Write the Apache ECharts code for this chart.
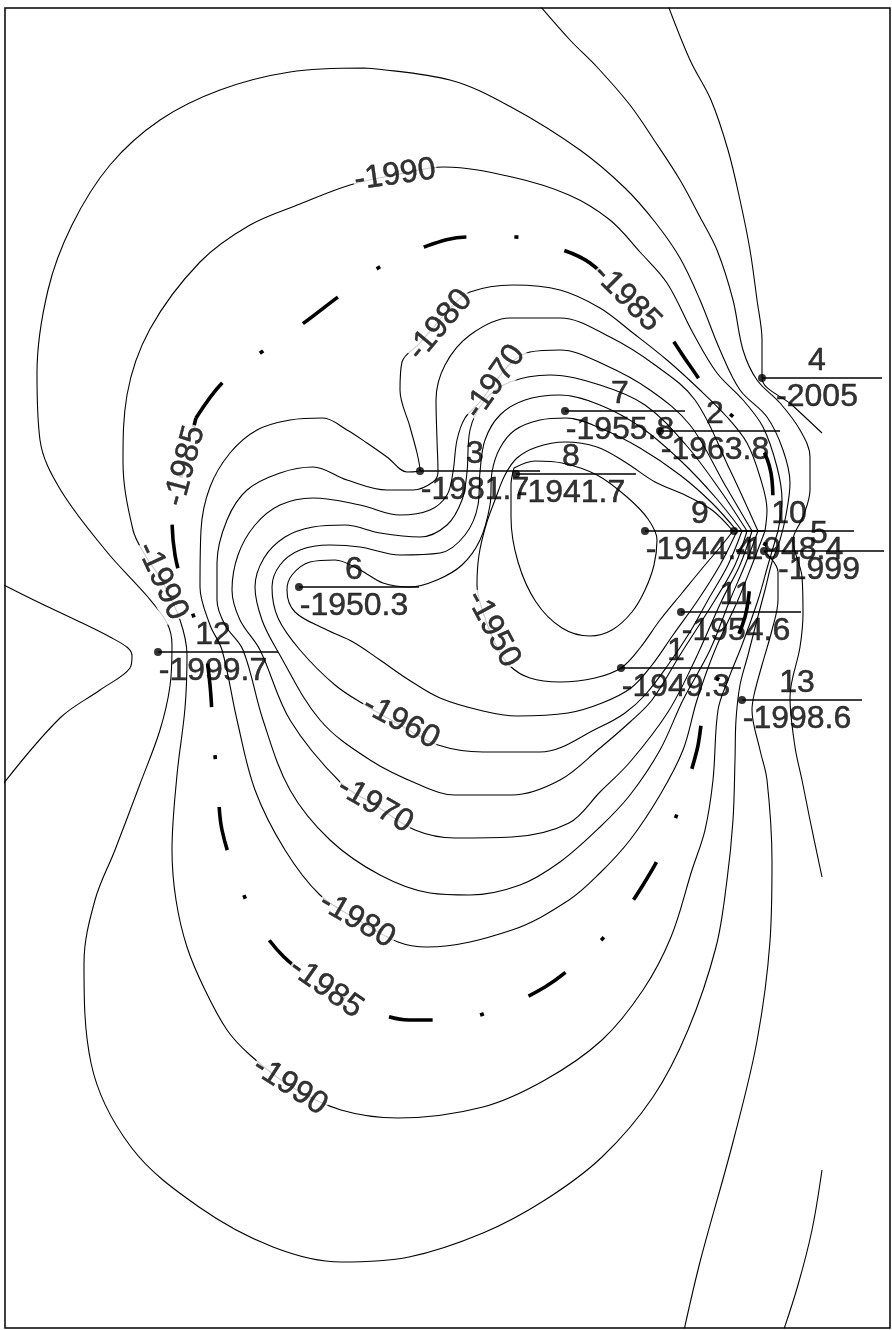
<!DOCTYPE html>
<html><head><meta charset="utf-8">
<script src="https://cdn.jsdelivr.net/npm/echarts/dist/echarts.min.js"></script>
<style>html,body{margin:0;padding:0;background:#fff}#c{width:892px;height:1330px}</style>
</head><body><div id="c"></div>
<script>
// ---- well data ----
const wellIds    = ['1','2','3','4','5','6','7','8','9','10','11','12','13'];
const wellX      = [621,660,420,762,764,299,565,516,645,734,681,158,742];
const wellY      = [668,431,471,378,551,587,411,474,531,531,612,652,700];
const wellValues = ['-1949.3','-1963.8','-1981.7','-2005','-1999','-1950.3','-1955.8','-1941.7','-1944.4','-1948.4','-1954.6','-1999.7','-1998.6'];

// ---- contour lines (map coordinates) ----
const c1945 = [[514,468],[535,461],[562,463],[597,475],[627,497],[648,519],[657,540],[654,565],[645,590],[632,612],[612,630],[590,636],[562,628],[536,602],[518,562],[511,517],[511,485],[514,468]];
const c1950 = [[733,531],[712,510],[685,495],[655,482],[625,462],[597,447],[565,442],[537,447],[517,458],[505,475],[495,500],[486,525],[479,555],[477,585],[484,615],[496,645],[510,666],[530,678],[560,682],[595,678],[621,668],[640,648],[660,620],[682,593],[705,565],[722,545],[733,531]];
const c1955 = [[737,531],[712,503],[680,475],[640,448],[600,428],[566,418],[540,420],[515,430],[500,448],[492,472],[490,505],[480,540],[462,565],[437,580],[410,587],[383,583],[360,570],[335,560],[310,562],[292,575],[287,590],[295,612],[327,630],[353,642],[380,660],[409,680],[440,698],[483,711],[517,716],[568,713],[602,703],[631,688],[652,665],[673,635],[698,600],[720,565],[737,531]];
const c1960 = [[742,531],[716,498],[682,462],[642,428],[600,405],[560,395],[525,400],[500,415],[485,440],[480,472],[478,505],[465,535],[440,553],[400,555],[360,547],[330,545],[300,550],[280,565],[272,587],[278,618],[300,650],[335,685],[365,705],[400,725],[438,745],[483,752],[540,752],[600,727],[625,713],[645,695],[668,665],[690,632],[708,600],[728,565],[742,531]];
const c1965 = [[747,531],[720,490],[686,445],[645,405],[600,385],[550,375],[510,382],[485,400],[470,430],[467,472],[462,500],[447,525],[420,537],[380,533],[345,525],[313,527],[285,537],[264,558],[255,587],[262,620],[277,650],[320,720],[370,760],[420,785],[455,795],[512,795],[560,780],[600,748],[630,722],[652,700],[680,655],[715,600],[735,565],[747,531]];
const c1970 = [[752,531],[725,485],[690,425],[650,390],[605,365],[560,350],[530,352],[512,362],[495,382],[480,402],[465,418],[457,440],[453,472],[447,495],[430,510],[400,515],[360,505],[313,498],[280,505],[255,525],[238,555],[232,590],[240,620],[260,650],[290,720],[341,783],[375,805],[415,830],[455,838],[512,837],[569,823],[600,792],[630,762],[668,712],[695,660],[722,600],[740,565],[752,531]];
const c1975 = [[758,531],[730,470],[695,400],[655,365],[610,337],[560,318],[510,318],[470,335],[445,365],[436,400],[437,440],[438,472],[433,482],[413,490],[387,490],[347,480],[313,467],[280,473],[247,490],[227,520],[217,563],[217,600],[225,625],[243,650],[263,720],[290,790],[330,840],[380,875],[430,893],[470,895],[520,885],[560,862],[600,827],[630,795],[660,750],[683,700],[710,650],[730,600],[745,565],[758,531]];
const c1980 = [[765,531],[767,510],[760,477],[747,443],[727,417],[700,390],[667,360],[633,333],[600,308],[560,290],[513,285],[470,292],[450,308],[437,323],[420,343],[402,362],[400,390],[410,427],[417,453],[420,470],[407,472],[387,457],[367,443],[347,430],[323,418],[290,420],[257,430],[230,453],[210,487],[201,530],[200,587],[210,625],[222,650],[237,720],[255,790],[285,850],[320,895],[358,920],[398,942],[427,947],[512,930],[569,900],[600,873],[630,840],[660,795],[683,750],[697,700],[715,650],[738,600],[752,565],[765,531]];
const c1985 = [[196,418],[223,382],[263,351],[301,325],[338,297],[378,268],[424,247],[466,237],[515,237],[563,250],[590,263],[628,298],[663,328],[688,363],[715,400],[757,440],[772,480],[773,510],[770,531],[760,555],[752,575],[745,617],[728,658],[705,707],[697,750],[683,796],[665,845],[643,885],[615,925],[580,960],[545,987],[500,1008],[452,1020],[409,1020],[370,1010],[326,988],[284,957],[256,920],[236,875],[222,830],[218,790],[213,730],[210,685],[205,650],[195,620],[185,592],[175,555],[172,516],[180,480],[189,445],[196,418]];
const c1990 = [[778,531],[768,565],[758,600],[742,645],[728,680],[718,710],[713,780],[705,830],[692,870],[671,937],[643,990],[602,1040],[545,1080],[483,1107],[398,1118],[341,1110],[290,1086],[250,1055],[227,1030],[205,990],[187,947],[176,900],[172,850],[177,775],[185,708],[187,655],[180,620],[162,581],[145,555],[133,530],[123,462],[127,395],[150,329],[200,262],[250,225],[300,204],[350,185],[395,175],[444,167],[512,177],[569,195],[610,220],[640,252],[667,283],[693,333],[717,373],[743,400],[763,427],[777,467],[782,500],[778,531]];
const c1995 = [[364,68],[450,80],[511,107],[580,150],[625,188],[655,222],[680,258],[700,300],[720,350],[740,390],[767,417],[783,450],[790,483],[786,515],[780,540],[772,562],[765,590],[757,620],[748,655],[740,685],[736,720],[735,760],[733,820],[727,880],[716,947],[688,1030],[653,1097],[602,1157],[545,1200],[483,1233],[409,1257],[341,1262],[273,1247],[199,1207],[131,1147],[91,1063],[84,963],[95,900],[115,850],[140,784],[160,730],[170,686],[172,645],[167,623],[147,596],[107,552],[60,489],[40,440],[37,373],[48,290],[72,225],[110,165],[160,120],[220,90],[290,72],[364,68]];
const c2000Left  = [[0,583],[40,603],[80,622],[110,637],[128,648],[132,656],[130,668],[100,690],[60,718],[0,788]];
const c2000Right = [[764,551],[778,572],[778,600],[772,630],[762,665],[754,695],[752,710],[760,750],[767,780],[772,861],[770,941],[757,1041],[733,1142],[700,1262],[683,1335]];
const c2005Top   = [[666,0],[690,60],[711,100],[728,150],[740,200],[750,250],[757,300],[762,340],[762,378],[792,405],[822,433]];
const c2005Mid   = [[535,0],[570,40],[597,67],[630,105],[654,140],[680,180],[700,217],[717,250],[733,300],[743,350],[757,380],[780,403],[800,430],[810,457],[810,490],[803,517],[793,540],[802,577],[803,613],[800,647],[790,697],[795,747],[802,780],[810,820],[822,877]];
const c2005Low   = [[822,1170],[812,1230],[798,1285],[782,1335]];

// ---- contour label texts and placement ----
const labelTexts  = ['-1990','-1990','-1990','-1985','-1985','-1985','-1980','-1980','-1970','-1970','-1960','-1950'];
const labelX      = [395,162,290,627,185,326,440,357,495,375,401,493];
const labelY      = [175,581,1086,298,466,988,325,920,382,805,722,629];
const labelAngles = [8,-65,-33,-45,75,-35,50,-30,55,-30,-28,-62];

const thinLines = [c1945,c1950,c1955,c1960,c1965,c1970,c1975,c1980,c1990,c1995,c2000Left,c2000Right,c2005Top,c2005Mid,c2005Low];
const LEADER = 120;
const FONT = 'Liberation Sans, Arial, Helvetica, sans-serif';

const series = [];
thinLines.forEach(function(pts){
  series.push({type:'line', data:pts, smooth:0.35, symbol:'none', silent:true, z:2,
    lineStyle:{color:'#000', width:1.1}});
});
series.push({type:'line', data:c1985, smooth:0.35, symbol:'none', silent:true, z:2,
  lineStyle:{color:'#000', width:3.6, type:[44,48,4,48], cap:'butt'}});

// contour labels
series.push({type:'scatter', z:5, silent:true, symbolSize:1, itemStyle:{color:'rgba(0,0,0,0)'},
  data: labelTexts.map(function(t,i){ return {name:t, value:[labelX[i],labelY[i]], label:{rotate:labelAngles[i]}}; }),
  label:{show:true, position:'inside', formatter:'{b}', color:'#000', fontSize:32, fontFamily:FONT,
    textBorderColor:'#000', textBorderWidth:0.5,
    backgroundColor:'#fff', padding:[0,1], align:'center', verticalAlign:'middle'}});

// leader lines
series.push({type:'lines', coordinateSystem:'cartesian2d', z:6, silent:true,
  lineStyle:{color:'#000', width:1.5, opacity:1},
  data: wellIds.map(function(id,i){ return {coords:[[wellX[i],wellY[i]],[wellX[i]+LEADER,wellY[i]]]}; })});

// wells
series.push({type:'scatter', z:7, silent:true, symbol:'circle', symbolSize:8, itemStyle:{color:'#000'},
  data: wellIds.map(function(id,i){ return [wellX[i],wellY[i]]; })});

// well numbers and values
const wellLabelStyle = {show:true, position:'inside', formatter:'{b}', color:'#000', fontSize:32, fontFamily:FONT,
  textBorderColor:'#000', textBorderWidth:0.5, align:'center', verticalAlign:'middle'};
series.push({type:'scatter', z:8, silent:true, symbolSize:1, itemStyle:{color:'rgba(0,0,0,0)'},
  data: wellIds.map(function(id,i){ return {name:id, value:[wellX[i],wellY[i]]}; }),
  label:Object.assign({}, wellLabelStyle, {offset:[55,-17]})});
series.push({type:'scatter', z:8, silent:true, symbolSize:1, itemStyle:{color:'rgba(0,0,0,0)'},
  data: wellIds.map(function(id,i){ return {name:wellValues[i], value:[wellX[i],wellY[i]]}; }),
  label:Object.assign({}, wellLabelStyle, {offset:[55,19]})});

const chart = echarts.init(document.getElementById('c'), null, {renderer:'canvas'});
chart.setOption({
  animation:false,
  backgroundColor:'#fff',
  grid:{left:5, top:8, width:885, height:1320, show:true, borderColor:'#000', borderWidth:1.5, backgroundColor:'#fff'},
  xAxis:{type:'value', min:5, max:890, show:false},
  yAxis:{type:'value', min:8, max:1328, inverse:true, show:false},
  series: series
});
</script></body></html>
